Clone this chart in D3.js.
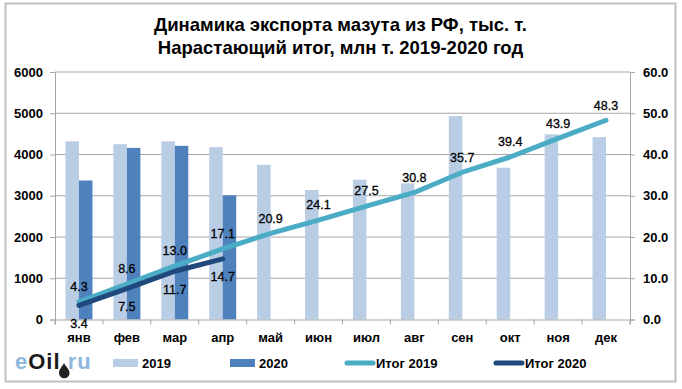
<!DOCTYPE html>
<html><head><meta charset="utf-8">
<script src="https://cdn.jsdelivr.net/npm/d3@7/dist/d3.min.js"></script>
<style>html,body{margin:0;padding:0;background:#fff}svg{display:block}text{font-family:"Liberation Sans",Arial,sans-serif;fill:#000}</style>
</head><body><svg id="c" width="682" height="389"></svg>
<script>
const months=["янв","фев","мар","апр","май","июн","июл","авг","сен","окт","ноя","дек"];
const export2019=[4320,4250,4320,4180,3750,3140,3390,3300,4930,3680,4490,4420];
const export2020=[3370,4160,4210,3010];
const total2019=[4.3,8.6,13.0,17.1,20.9,24.1,27.5,30.8,35.7,39.4,43.9,48.3];
const total2020=[3.4,7.5,11.7,14.7];
const leftTicks=[0,1000,2000,3000,4000,5000,6000];
const rightTicks=[0,10,20,30,40,50,60];
const titleLines=["Динамика экспорта мазута из РФ, тыс. т.","Нарастающий итог, млн т. 2019-2020 год"];

const c={b19:"#b9cde4",b20:"#4f81bd",l19:"#4bacc6",l20:"#1f497d",grid:"#a6a6a6",axis:"#a6a6a6"};
const svg=d3.select("#c");
const L=55,R=630,T=72,B=319.5;
const x=d3.scaleBand().domain(months).range([L,R]);
const xi=i=>x(months[i])+x.bandwidth()/2;
const yL=d3.scaleLinear().domain([0,6000]).range([B,T]);
const yR=d3.scaleLinear().domain([0,60]).range([B,T]);
const bw=13.5;

svg.append("rect").attr("x",5.5).attr("y",3.5).attr("width",670).attr("height",378).attr("fill","#fff").attr("stroke","#bfbfbf").attr("stroke-width",2);

svg.append("g").selectAll("line").data(leftTicks.slice(1)).join("line")
 .attr("x1",L).attr("x2",R).attr("y1",d=>yL(d)).attr("y2",d=>yL(d)).attr("stroke",c.grid).attr("stroke-width",1);

svg.append("g").selectAll("rect").data(export2019).join("rect")
 .attr("x",(d,i)=>xi(i)-bw).attr("width",bw).attr("y",d=>yL(d)).attr("height",d=>B-yL(d)).attr("fill",c.b19);
svg.append("g").selectAll("rect").data(export2020).join("rect")
 .attr("x",(d,i)=>xi(i)).attr("width",bw).attr("y",d=>yL(d)).attr("height",d=>B-yL(d)).attr("fill",c.b20);

const gL=svg.append("g").attr("transform",`translate(${L},0)`).call(d3.axisLeft(yL).tickValues(leftTicks).tickSize(5).tickPadding(7).tickFormat(d3.format("d")));
const gR=svg.append("g").attr("transform",`translate(${R},0)`).call(d3.axisRight(yR).tickValues(rightTicks).tickSize(5).tickPadding(8).tickFormat(d3.format(".1f")));
const gB=svg.append("g").attr("transform",`translate(0,${B})`).call(d3.axisBottom(x).tickSize(5).tickPadding(4));
gB.selectAll(".tick line").remove();
gB.selectAll(".tickm").data(d3.range(13)).join("line").attr("class","tickm")
 .attr("x1",i=>L+i*x.step()).attr("x2",i=>L+i*x.step()).attr("y1",0).attr("y2",5).attr("stroke",c.axis);
[gL,gR,gB].forEach(g=>{g.selectAll(".domain").attr("stroke",c.axis);g.selectAll(".tick line").attr("stroke",c.axis);
 g.selectAll("text").attr("font-size",13).attr("font-weight",700).attr("font-family",'"Liberation Sans",Arial,sans-serif').attr("fill","#000");});
gB.selectAll(".tick text").attr("dy","1.05em");

const line=d3.line().x((d,i)=>xi(i)).y(d=>yR(d)).curve(d3.curveLinear);
svg.append("path").datum(total2019).attr("d",line).attr("fill","none").attr("stroke",c.l19).attr("stroke-width",5).attr("stroke-linecap","round");
svg.append("path").datum(total2020).attr("d",line).attr("fill","none").attr("stroke",c.l20).attr("stroke-width",5).attr("stroke-linecap","round");

const lab=(data,off)=>svg.append("g").selectAll("text").data(data).join("text")
 .attr("x",(d,i)=>xi(i)).attr("y",d=>yR(d)+off).attr("dy","0.35em").attr("text-anchor","middle").attr("font-size",12.5).attr("font-weight",400).attr("stroke","#000").attr("stroke-width",0.3).text(d=>d3.format(".1f")(d));
lab(total2019,-15);
lab(total2020,18);

svg.append("g").selectAll("text").data(titleLines).join("text").attr("x",340.5).attr("y",(d,i)=>31+i*23)
 .attr("text-anchor","middle").attr("font-size",18.5).attr("font-weight",700).text(d=>d);

const legendBar=[["2019",113,c.b19],["2020",230,c.b20]];
const legendLine=[["Итог 2019",345,c.l19],["Итог 2020",494,c.l20]];
const ly=363;
legendBar.forEach(([t,lx,col])=>{
 svg.append("rect").attr("x",lx).attr("y",ly-4).attr("width",25).attr("height",8).attr("fill",col);
 svg.append("text").attr("x",lx+29).attr("y",ly).attr("dy","0.35em").attr("font-size",13).attr("font-weight",700).text(t);
});
legendLine.forEach(([t,lx,col])=>{
 svg.append("line").attr("x1",lx+2).attr("x2",lx+28).attr("y1",ly).attr("y2",ly).attr("stroke",col).attr("stroke-width",5).attr("stroke-linecap","round");
 svg.append("text").attr("x",lx+31).attr("y",ly).attr("dy","0.35em").attr("font-size",13).attr("font-weight",700).text(t);
});

const logo=svg.append("text").attr("x",15).attr("y",369).attr("font-size",22).attr("font-weight",700).style("letter-spacing","1px");
logo.append("tspan").text("e").style("fill","#8db8dc");
logo.append("tspan").text("Oil").style("fill","#1a1a1a");
logo.append("tspan").text(".ru").style("fill","#8db8dc");
svg.append("path").attr("d","M64 363 C66 367 69.5 369 69.5 373 A5.2 5.2 0 0 1 59 373 C59 369 62 367 64 363Z").attr("fill","#222");
</script></body></html>
